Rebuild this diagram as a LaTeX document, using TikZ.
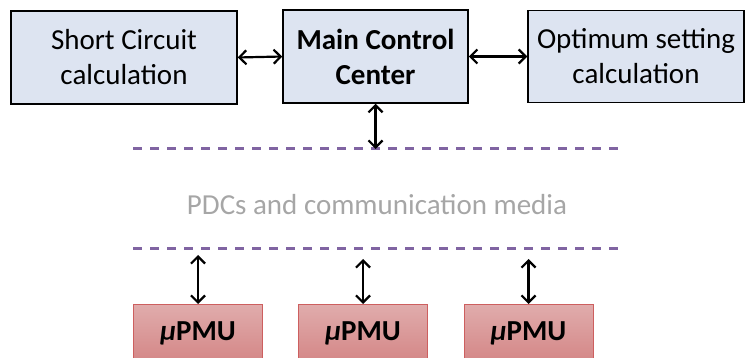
\documentclass[tikz,border=0pt]{standalone}
\usepackage{fontspec}
\setmainfont{Carlito}
\usetikzlibrary{arrows.meta, positioning}
\definecolor{cBox}{RGB}{221,228,241}
\definecolor{cMedia}{RGB}{128,100,162}
\definecolor{cGrey}{RGB}{166,166,166}
\definecolor{cPmuTop}{RGB}{224,172,172}
\definecolor{cPmuBot}{RGB}{212,134,134}
\definecolor{cPmuLine}{RGB}{205,95,95}
\tikzset{
	calcbox/.style={rectangle, draw=black, line width=1.5pt, fill=cBox, align=center, font=\fontsize{29}{35}\selectfont},
	pmubox/.style ={rectangle, draw=cPmuLine, line width=1pt, top color=cPmuTop, bottom color=cPmuBot, minimum width=129pt, minimum height=58pt, font=\fontsize{29}{35}\selectfont\bfseries},
	medialine/.style={cMedia, line width=3pt, dash pattern=on 9pt off 8pt},
	link/.style   ={{Straight Barb[length=7pt,width=14pt]}-{Straight Barb[length=7pt,width=14pt]}, line width=2.2pt},
}
\begin{document}
\begin{tikzpicture}[x=1pt, y=-1pt]
	\clip (0,0) rectangle (745,358);
	\useasboundingbox (0,0) rectangle (745,358);
	% upper row
	\node[calcbox, minimum width=226pt, minimum height=93pt] (sc) at (124,57.5) {Short Circuit\\calculation};
	\node[calcbox, minimum width=185pt, minimum height=93pt, font=\fontsize{29}{35}\selectfont\bfseries] (mcc) at (375.5,56.5) {Main Control\\Center};
	\node[calcbox, minimum width=216pt, minimum height=92pt] (opt) at (636,56.5) {Optimum setting\\calculation};
	\draw[link] (sc.east) -- (mcc.west);
	\draw[link] (mcc.east) -- (opt.west);
	% communication layer
	\coordinate (upL) at (133,149);
	\coordinate (upR) at (619,149);
	\coordinate (loL) at (133,249);
	\coordinate (loR) at (619,249);
	\draw[medialine] (upL) -- (upR);
	\draw[medialine] (loL) -- (loR);
	\node[cGrey, font=\fontsize{29}{35}\selectfont] (media) at (377,205) {PDCs and communication media};
	\coordinate (mccTap) at (mcc.south |- upL);
	\draw[link] (mcc.south) -- (mccTap);
	% measurement units
	\node[pmubox, anchor=north] (pmuA) at (198,304) {\textit{μ}PMU};
	\node[pmubox, anchor=north] (pmuB) at (363,304) {\textit{μ}PMU};
	\node[pmubox, anchor=north] (pmuC) at (528.5,304) {\textit{μ}PMU};
	\coordinate (tapA) at (198,255);
	\coordinate (tapB) at (363,259);
	\coordinate (tapC) at (528.5,259);
	\draw[link] (tapA) -- (pmuA.north);
	\draw[link] (tapB) -- (pmuB.north);
	\draw[link] (tapC) -- (pmuC.north);
\end{tikzpicture}
\end{document}
